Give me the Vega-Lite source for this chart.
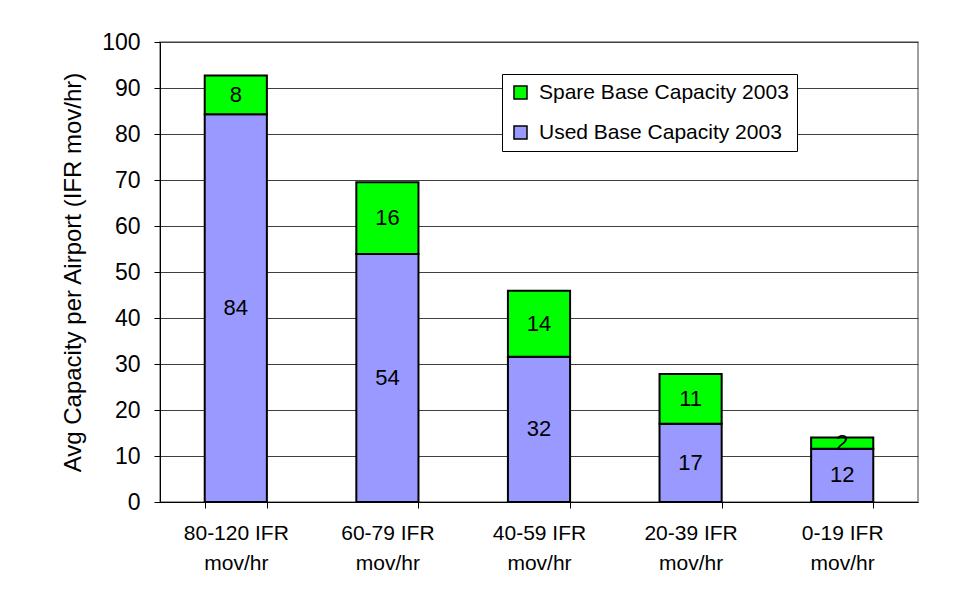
{
  "$schema": "https://vega.github.io/schema/vega-lite/v6.json",
  "width": 758,
  "height": 460,
  "autosize": {"type": "none"},
  "padding": {"left": 160, "top": 42, "right": 61, "bottom": 99},
  "background": "white",
  "config": {"font": "Liberation Sans", "view": {"stroke": "#808080", "strokeWidth": 1.5}},
  "data": {"values": [
    {"cat": "80-120 IFR mov/hr", "series": "Used Base Capacity 2003", "value": 84.3, "order": 0},
    {"cat": "80-120 IFR mov/hr", "series": "Spare Base Capacity 2003", "value": 8.4, "order": 1},
    {"cat": "60-79 IFR mov/hr", "series": "Used Base Capacity 2003", "value": 53.9, "order": 0},
    {"cat": "60-79 IFR mov/hr", "series": "Spare Base Capacity 2003", "value": 15.6, "order": 1},
    {"cat": "40-59 IFR mov/hr", "series": "Used Base Capacity 2003", "value": 31.6, "order": 0},
    {"cat": "40-59 IFR mov/hr", "series": "Spare Base Capacity 2003", "value": 14.3, "order": 1},
    {"cat": "20-39 IFR mov/hr", "series": "Used Base Capacity 2003", "value": 17.0, "order": 0},
    {"cat": "20-39 IFR mov/hr", "series": "Spare Base Capacity 2003", "value": 10.8, "order": 1},
    {"cat": "0-19 IFR mov/hr", "series": "Used Base Capacity 2003", "value": 11.6, "order": 0},
    {"cat": "0-19 IFR mov/hr", "series": "Spare Base Capacity 2003", "value": 2.4, "order": 1}
  ]},
  "transform": [
    {"stack": "value", "groupby": ["cat"], "sort": [{"field": "order", "order": "ascending"}], "as": ["v0", "v1"]},
    {"calculate": "(datum.v0 + datum.v1) / 2", "as": "mid"}
  ],
  "layer": [
    {
      "mark": {"type": "bar", "stroke": "black", "strokeWidth": 2},
      "encoding": {
        "x": {
          "field": "cat", "type": "nominal", "sort": null,
          "scale": {"paddingInner": 0.59, "paddingOuter": 0.295},
          "axis": {
            "title": null,
            "labelExpr": "datum.label ? [replace(datum.label, ' mov/hr', ''), 'mov/hr'] : ''",
            "labelAngle": 0, "labelFontSize": 21, "labelLineHeight": 30,
            "labelPadding": 14, "labelBaseline": "top", "labelColor": "black",
            "tickBand": "extent", "tickSize": 6, "tickColor": "black",
            "domainColor": "black", "grid": false
          }
        },
        "y": {
          "field": "v0", "type": "quantitative",
          "scale": {"domain": [0, 100], "nice": false},
          "axis": {
            "title": "Avg Capacity per Airport (IFR mov/hr)",
            "values": [0, 10, 20, 30, 40, 50, 60, 70, 80, 90, 100],
            "tickSize": 6, "labelPadding": 14, "labelFontSize": 23, "labelColor": "black",
            "domainColor": "black", "tickColor": "black",
            "grid": true, "gridColor": "#404040",
            "titleFontSize": 24, "titleFontWeight": "normal", "titleColor": "black",
            "titleX": -87, "titleY": 230, "titleAngle": -90, "titleAlign": "center", "titleBaseline": "middle"
          }
        },
        "y2": {"field": "v1"},
        "color": {
          "field": "series", "type": "nominal",
          "scale": {"domain": ["Spare Base Capacity 2003", "Used Base Capacity 2003"], "range": ["#00FF00", "#9999FF"]},
          "legend": {
            "orient": "none", "legendX": 342, "legendY": 32, "title": null,
            "fillColor": "white", "strokeColor": "black", "padding": 8,
            "symbolType": "square", "symbolSize": 169, "symbolStrokeColor": "black", "symbolStrokeWidth": 1.5, "symbolOpacity": 1,
            "labelFontSize": 21, "labelColor": "black", "rowPadding": 18, "labelOffset": 8, "labelLimit": 400
          }
        }
      }
    },
    {
      "mark": {"type": "text", "fontSize": 22, "color": "black"},
      "encoding": {
        "x": {"field": "cat", "type": "nominal", "sort": null},
        "y": {"field": "mid", "type": "quantitative"},
        "text": {"field": "value", "type": "quantitative", "format": ".0f"}
      }
    }
  ]
}
